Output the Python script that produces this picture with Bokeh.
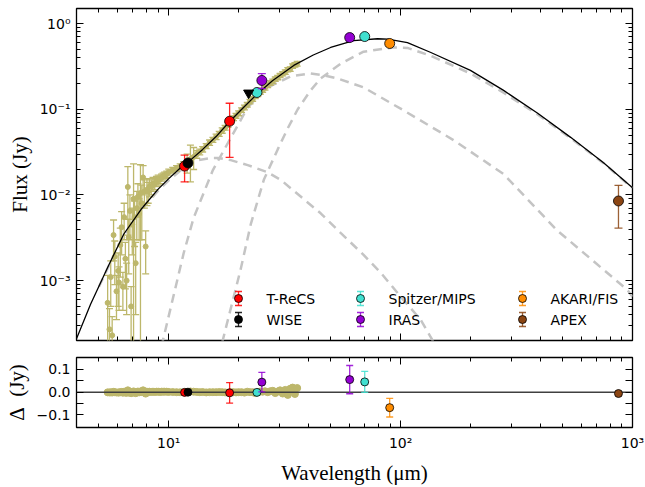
import math
from bokeh.plotting import figure
from bokeh.layouts import column
from bokeh.models import Range1d, FixedTicker, CustomJSTickFormatter, LogAxis, LinearAxis, Label
from bokeh.embed import file_html
from bokeh.resources import INLINE

TAN = "#bdb76b"
DASHC = "#c4c4c4"

# ---------------- data ----------------
model_wl = [4.0, 4.6, 5.5, 6.4, 7.6, 9.0, 10.0, 11.3, 12.5, 14.0, 16.0, 18.3, 21.0, 24.2, 28.0,
            34.6, 42.0, 49.9, 62.7, 79.5, 88.0, 107, 135, 200, 278, 390, 541, 750, 1000]
model_flux = [2.1e-4, 5.3e-4, 1.5e-3, 3.5e-3, 6.8e-3, 1.17e-2, 1.55e-2, 2.1e-2, 2.6e-2, 3.4e-2, 4.8e-2,
              7.2e-2, 0.105, 0.153, 0.215, 0.325, 0.43, 0.526, 0.634, 0.665, 0.66, 0.60, 0.46, 0.284,
              0.166, 0.090, 0.047, 0.0237, 0.0121]

hot_wl = [5.0, 6.0, 7.0, 8.0, 9.0, 10.0, 11.3, 12.4, 13.5, 15.3, 16.3, 18.5, 21.9, 26.7, 30.4,
          45.2, 55.1, 69.2, 82.0, 100, 122, 139]
hot_flux = [8.5e-4, 2.4e-3, 5.0e-3, 7.8e-3, 1.12e-2, 1.48e-2, 1.95e-2, 2.32e-2, 2.55e-2, 2.7e-2, 2.7e-2,
            2.55e-2, 2.23e-2, 1.84e-2, 1.5e-2, 6.1e-3, 3.6e-3, 2.0e-3, 1.24e-3, 6.5e-4, 3.5e-4, 1.9e-4]

warm_wl = [9.3, 11.6, 12.8, 15.5, 17.3, 21.9, 26.7, 33.6, 40.9, 46.6, 53.4, 69.2, 103, 169, 278, 471, 950, 1000]
warm_flux = [1.7e-4, 2.1e-3, 5.4e-3, 1.95e-2, 3.34e-2, 0.105, 0.18, 0.242, 0.262, 0.249, 0.229, 0.18,
             0.097, 0.0437, 0.0175, 3.9e-3, 7.8e-4, 6.5e-4]

cold_wl = [17.0, 20.4, 22.6, 25.7, 29.5, 32.6, 36.0, 40.9, 45.2, 55.1, 69.2, 93, 107, 135, 200, 278,
           390, 541, 750, 1000]
cold_flux = [1.9e-4, 1.34e-3, 4.6e-3, 1.5e-2, 3.4e-2, 6.0e-2, 0.100, 0.166, 0.229, 0.34, 0.47, 0.526,
             0.52, 0.42, 0.262, 0.156, 0.087, 0.046, 0.0235, 0.012]

spec_wl = [5.45, 5.55, 5.62, 5.70, 5.78, 5.85, 5.95, 6.05, 6.10, 6.18, 6.26, 6.34, 6.42, 6.50, 6.58,
           6.66, 6.72, 6.80, 6.88, 6.96, 7.05, 7.12, 7.20, 7.28, 7.36, 7.45, 7.55, 7.65, 7.75, 7.85,
           7.95, 8.05, 8.15, 8.25, 8.40, 8.55, 8.70, 8.85, 9.00, 9.15, 9.30, 9.45, 9.60, 9.80,
           10.0, 10.4, 10.8, 11.2, 11.6, 12.0, 12.4, 12.8, 13.2, 13.6, 14.0, 14.5, 15.0, 15.5, 16.0,
           16.5, 17.0, 17.5, 18.0, 18.5, 19.0, 19.5, 20.0, 20.6, 21.2, 21.8, 22.4, 23.0, 23.6, 24.2,
           24.8, 25.4, 26.0, 26.7, 27.4, 28.1, 28.8, 29.5, 30.2, 31.0, 31.8, 32.6, 33.4, 34.2, 35.0, 35.8]
spec_flux = [5.5e-4, 2.7e-4, 1.1e-3, 2.3e-4, 3.4e-3, 1.9e-3, 7.5e-4, 1.3e-3, 9.5e-4, 2.6e-3, 4.2e-3,
             8.5e-4, 5.5e-3, 1.8e-3, 1.0e-3, 1.24e-2, 3.2e-3, 6.5e-3, 5.0e-4, 4.5e-3, 9.0e-3, 5.5e-3,
             1.6e-3, 7.0e-3, 9.5e-3, 6.0e-3, 1.05e-2, 8.0e-3, 1.6e-2, 1.1e-2, 2.5e-3,
             1.15e-2, 1.1e-2, 1.25e-2, 1.25e-2, 1.35e-2, 1.35e-2, 1.45e-2, 1.5e-2, 1.5e-2, 1.6e-2,
             1.65e-2, 1.7e-2, 1.75e-2,
             0.0185, 0.0195, 0.0205, 0.0215, 0.0225, 0.0240, 0.0262, 0.0278, 0.0298, 0.0318, 0.0342,
             0.0372, 0.0408, 0.0440, 0.0478, 0.0518, 0.0565, 0.0610, 0.0660, 0.0720, 0.0785, 0.0840, 0.0900,
             0.0980, 0.1050, 0.1130, 0.1230, 0.1320, 0.1420, 0.1500, 0.1590, 0.1680, 0.1780, 0.1900,
             0.2020, 0.2120, 0.2250, 0.2350, 0.2480, 0.2600, 0.2720, 0.2900, 0.2950, 0.3200, 0.3300, 0.3400]
spec_err = [6.0e-4, 2.0e-4, 6e-4, 1.5e-4, 1.7e-3, 1.0e-3, 4e-4, 8e-4, 5e-4, 1.5e-3, 2.2e-3, 4e-4,
            2.5e-3, 1.0e-3, 6e-4, 9e-3, 2e-3, 3.5e-3, 3.5e-4, 2.5e-3, 1.4e-2, 3e-3, 1.2e-3, 4e-3,
            4e-3, 3e-3, 1.2e-2, 5e-3, 6e-3, 4e-3, 1.3e-3,
            4e-3, 3e-3, 3e-3, 2.5e-3, 2.5e-3, 2e-3, 2e-3, 2e-3, 1.5e-3, 1.5e-3, 1.5e-3, 1.5e-3, 1.5e-3,
            1.5e-3, 1.5e-3, 1.5e-3, 1.5e-3, 2e-3, 6e-3, 1.2e-2, 8e-3, 3e-3, 2.5e-3, 2.5e-3, 2.5e-3, 3e-3,
            3e-3, 3.5e-3, 3.5e-3, 4e-3, 4e-3, 4.5e-3, 5e-3, 5e-3, 5.5e-3, 6e-3,
            6e-3, 6.5e-3, 7e-3, 7.5e-3, 8e-3, 8.5e-3, 9e-3, 9.5e-3, 1e-2, 1.05e-2, 1.1e-2, 1.2e-2,
            1.25e-2, 1.3e-2, 1.4e-2, 1.45e-2, 1.5e-2, 1.6e-2, 1.7e-2, 1.8e-2, 1.9e-2, 2.0e-2, 2.1e-2]
spec_resid = [-0.0009, -0.0013, -0.0007, -0.0017, 0.0013, -0.0003, -0.0016, -0.0013, -0.0018, -0.0003,
              0.001, -0.0025, 0.002, -0.002, -0.003, 0.008, -0.0013, 0.0017, -0.0045, -0.0008, 0.0034,
              -0.0003, -0.0045, 0.0006, 0.0028, -0.001, 0.003, 0.0003, 0.008, 0.0025, -0.0064,
              0.002, 0.001, 0.002, 0.001, 0.002, 0.001, 0.002, 0.002, 0.001, 0.002, 0.002, 0.002, 0.002,
              0.001, 0.0005, 0.0, -0.0005, 0.0, 0.001, 0.003, 0.002, 0.001, 0.0, 0.0005, -0.001, 0.0,
              0.0, 0.0, 0.0005, 0.0, -0.001, -0.002, 0.0, 0.0, -0.001, 0.0,
              0.0, -0.002, 0.002, 0.0, 0.0, -0.004, 0.0, 0.003, 0.002, 0.004, 0.0, 0.004, 0.006,
              -0.004, 0.003, 0.008, -0.006, 0.01, -0.012, 0.015, 0.02, -0.008, 0.018]

trecs_wl = [11.7, 18.3]; trecs_flux = [0.0217, 0.0725]; trecs_err = [0.0075, 0.045]; trecs_res = [-0.001, -0.003]
wise_wl = [12.1]; wise_flux = [0.0236]; wise_err = [0.001]; wise_res = [0.0]
wise_lim_wl = [22.1]; wise_lim_flux = [0.155]
mips_wl = [24.0, 70.0]; mips_flux = [0.157, 0.706]; mips_err = [0.004, 0.046]; mips_res = [-0.001, 0.045]
iras_wl = [25.2, 60.3]; iras_flux = [0.217, 0.687]; iras_err = [0.043, 0.062]; iras_res = [0.044, 0.055]
akari_wl = [89.7]; akari_flux = [0.586]; akari_err = [0.041]; akari_res = [-0.068]
apex_wl = [870.0]; apex_flux = [0.0085]; apex_err = [0.0044]; apex_res = [-0.006]

phot = [
    ("T-ReCS", "#ff0000", trecs_wl, trecs_flux, trecs_err, trecs_res),
    ("WISE", "#000000", wise_wl, wise_flux, wise_err, wise_res),
    ("Spitzer/MIPS", "#40e0d0", mips_wl, mips_flux, mips_err, mips_res),
    ("IRAS", "#9400d3", iras_wl, iras_flux, iras_err, iras_res),
    ("AKARI/FIS", "#ff8c00", akari_wl, akari_flux, akari_err, akari_res),
    ("APEX", "#8b4513", apex_wl, apex_flux, apex_err, apex_res),
]

X_RANGE = (4.0, 1000.0)
Y_RANGE = (2e-4, 1.5)
R_RANGE = (-0.155, 0.152)

FW = 645
LEFT, RIGHT = 76, 13
FRAME_W = FW - LEFT - RIGHT
FRAME_H1 = 332
TOP1 = 8

TICK_FONT = "DejaVu Sans"
LABEL_FONT = "Liberation Serif"
LABEL_SIZE = "21px"

log_fmt = CustomJSTickFormatter(code="""
const e = Math.round(Math.log10(tick));
const m = {"-":"\u207b","0":"\u2070","1":"\u00b9","2":"\u00b2","3":"\u00b3","4":"\u2074","5":"\u2075","6":"\u2076","7":"\u2077","8":"\u2078","9":"\u2079"};
return "10" + String(e).split("").map(c => m[c]).join("");
""")
lin_fmt = CustomJSTickFormatter(code="""
const s = Math.abs(tick) < 1e-9 ? "0.0" : tick.toFixed(1);
return s.replace("-", "\u2212");
""")

x_major = [10, 100, 1000]
x_minor = [5, 6, 7, 8, 9, 20, 30, 40, 50, 60, 70, 80, 90, 200, 300, 400, 500, 600, 700, 800, 900]
y_major = [1e-3, 1e-2, 1e-1, 1.0]
y_minor = [m * 10.0 ** e for e in (-4, -3, -2, -1) for m in range(2, 10) if 2e-4 <= m * 10.0 ** e <= 1.5]
r_major = [-0.1, 0.0, 0.1]
r_minor = [-0.05, 0.05]


def style_axis(ax, ticker, fmt=None, labels=True, standoff=6):
    ax.ticker = ticker
    ax.axis_line_color = None
    ax.major_tick_in = 7
    ax.major_tick_out = 0
    ax.minor_tick_in = 4
    ax.minor_tick_out = 0
    ax.major_tick_line_color = "black"
    ax.minor_tick_line_color = "black"
    ax.major_tick_line_width = 1
    ax.minor_tick_line_width = 1
    if labels:
        ax.formatter = fmt
        ax.major_label_text_font = TICK_FONT
        ax.major_label_text_font_size = "14px"
        ax.major_label_text_color = "black"
        ax.major_label_standoff = standoff
    else:
        ax.formatter = CustomJSTickFormatter(code="return '';")
        ax.major_label_text_font_size = "1px"
        ax.major_label_text_alpha = 0
        ax.major_label_standoff = 0
        ax.axis_label_standoff = 0


def set_label(ax, text, standoff):
    ax.axis_label = text
    ax.axis_label_text_font = LABEL_FONT
    ax.axis_label_text_font_size = LABEL_SIZE
    ax.axis_label_text_font_style = "normal"
    ax.axis_label_text_color = "black"
    ax.axis_label_standoff = standoff


def base_fig(height, y_type, y_range, top, bottom):
    f = figure(width=FW, height=height, x_axis_type="log", y_axis_type=y_type,
               x_range=Range1d(*X_RANGE), y_range=Range1d(*y_range),
               output_backend="svg", toolbar_location=None,
               min_border_left=LEFT, min_border_right=RIGHT,
               min_border_top=top, min_border_bottom=bottom)
    f.xgrid.visible = False
    f.ygrid.visible = False
    f.outline_line_color = "black"
    f.outline_line_width = 1.3
    f.background_fill_color = "white"
    f.border_fill_color = "white"
    return f


# ---------------- top panel ----------------
p = base_fig(TOP1 + FRAME_H1 + 8, "log", Y_RANGE, TOP1, 8)

for wl, fl in ((hot_wl, hot_flux), (warm_wl, warm_flux), (cold_wl, cold_flux)):
    p.line(wl, fl, line_color=DASHC, line_width=2.5, line_dash="9 6")

spec_hi = [f + e for f, e in zip(spec_flux, spec_err)]
spec_lo = [max(f - e, 1e-7) for f, e in zip(spec_flux, spec_err)]
p.segment(x0=spec_wl, y0=spec_lo, x1=spec_wl, y1=spec_hi, line_color=TAN, line_width=1.3)
p.scatter(spec_wl, spec_hi, marker="dash", size=7, line_color=TAN, line_width=1.3)
p.scatter(spec_wl, spec_lo, marker="dash", size=7, line_color=TAN, line_width=1.3)
p.scatter(spec_wl, spec_flux, marker="circle", size=5, fill_color=TAN, line_color=TAN)

p.line(model_wl, model_flux, line_color="black", line_width=1.3)

for name, col, wl, fl, er, rs in phot:
    hi = [f + e for f, e in zip(fl, er)]
    lo = [max(f - e, 1e-7) for f, e in zip(fl, er)]
    p.segment(x0=wl, y0=lo, x1=wl, y1=hi, line_color=col, line_width=1.3, line_alpha=0.85)
    p.scatter(wl, hi, marker="dash", size=8, line_color=col, line_width=1.3, line_alpha=0.85)
    p.scatter(wl, lo, marker="dash", size=8, line_color=col, line_width=1.3, line_alpha=0.85)
    p.scatter(wl, fl, marker="circle", size=10, fill_color=col, line_color="black", line_width=0.8)

p.scatter(wise_lim_wl, wise_lim_flux, marker="inverted_triangle", size=10, fill_color="black", line_color="black")

# axes
style_axis(p.xaxis[0], FixedTicker(ticks=x_major, minor_ticks=x_minor), labels=False)
style_axis(p.yaxis[0], FixedTicker(ticks=y_major, minor_ticks=y_minor), fmt=log_fmt)
set_label(p.yaxis[0], "Flux (Jy)", 5)
ax_top = LogAxis()
style_axis(ax_top, FixedTicker(ticks=x_major, minor_ticks=x_minor), labels=False)
p.add_layout(ax_top, "above")
ax_right = LogAxis()
style_axis(ax_right, FixedTicker(ticks=y_major, minor_ticks=y_minor), labels=False)
p.add_layout(ax_right, "right")

# legend (drawn by hand, positions in frame pixels)
lx0, lx1 = math.log10(X_RANGE[0]), math.log10(X_RANGE[1])
ly0, ly1 = math.log10(Y_RANGE[0]), math.log10(Y_RANGE[1])


def fx(px):
    return 10 ** (lx0 + px / FRAME_W * (lx1 - lx0))


def fy(py):
    return 10 ** (ly1 - py / FRAME_H1 * (ly1 - ly0))


leg_cols = [162, 284, 446]
leg_rows = [290, 311]
for i, (name, col, wl, fl, er, rs) in enumerate(phot):
    cx = leg_cols[i // 2]
    cy = leg_rows[i % 2]
    xm = fx(cx)
    p.segment(x0=[xm], y0=[fy(cy + 7)], x1=[xm], y1=[fy(cy - 7)], line_color=col, line_width=1.3, line_alpha=0.85)
    p.scatter([xm, xm], [fy(cy + 7), fy(cy - 7)], marker="dash", size=7, line_color=col, line_width=1.3, line_alpha=0.85)
    p.scatter([xm], [fy(cy)], marker="circle", size=8, fill_color=col, line_color="black", line_width=0.8)
    p.add_layout(Label(x=fx(cx + 28), y=fy(cy), text=name, text_font=TICK_FONT, text_font_size="14px",
                       text_baseline="middle", text_align="left", text_color="black"))

# ---------------- bottom panel ----------------
p2 = base_fig(139, "linear", R_RANGE, 9, 58)
p2.scatter(spec_wl, spec_resid, marker="circle", size=7, fill_color=TAN, line_color=TAN)
p2.line([X_RANGE[0], X_RANGE[1]], [0, 0], line_color="#404040", line_width=1.5)
for name, col, wl, fl, er, rs in phot:
    hi = [r + e for r, e in zip(rs, er)]
    lo = [r - e for r, e in zip(rs, er)]
    p2.segment(x0=wl, y0=lo, x1=wl, y1=hi, line_color=col, line_width=1.3, line_alpha=0.85)
    p2.scatter(wl, hi, marker="dash", size=7, line_color=col, line_width=1.3, line_alpha=0.85)
    p2.scatter(wl, lo, marker="dash", size=7, line_color=col, line_width=1.3, line_alpha=0.85)
    p2.scatter(wl, rs, marker="circle", size=8, fill_color=col, line_color="black", line_width=0.8)

style_axis(p2.xaxis[0], FixedTicker(ticks=x_major, minor_ticks=x_minor), fmt=log_fmt, standoff=7)
set_label(p2.xaxis[0], "Wavelength (\u03bcm)", 7)
style_axis(p2.yaxis[0], FixedTicker(ticks=r_major, minor_ticks=r_minor), fmt=lin_fmt)
p2.yaxis[0].minor_tick_in = 7
set_label(p2.yaxis[0], "\u0394\u2002(Jy)", 5)
ax_top2 = LogAxis()
style_axis(ax_top2, FixedTicker(ticks=x_major, minor_ticks=x_minor), labels=False)
p2.add_layout(ax_top2, "above")
ax_right2 = LinearAxis()
style_axis(ax_right2, FixedTicker(ticks=r_major, minor_ticks=r_minor), labels=False)
ax_right2.minor_tick_in = 7
p2.add_layout(ax_right2, "right")

layout = column(p, p2)
open("out.html", "w").write(file_html(layout, INLINE))
